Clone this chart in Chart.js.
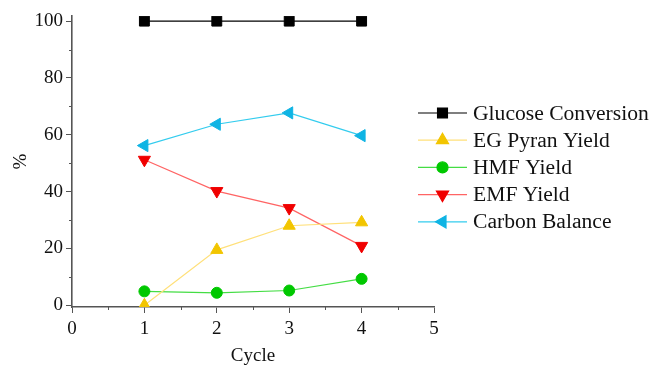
<!DOCTYPE html>
<html>
<head>
<meta charset="utf-8">
<script src="https://cdn.jsdelivr.net/npm/chart.js@4.4.0/dist/chart.umd.min.js"></script>
<style>
  html, body { margin: 0; padding: 0; background: #fff; }
  #wrap { width: 653px; height: 367px; }
</style>
</head>
<body>
<div id="wrap"><canvas id="myChart"></canvas></div>
<script>
const cycles = [1, 2, 3, 4];
const glucoseConversion = [100, 100, 100, 100];
const egPyranYield = [0, 19.5, 28.0, 29.2];
const hmfYield = [4.9, 4.4, 5.2, 9.3];
const emfYield = [51.2, 40.2, 34.2, 20.9];
const carbonBalance = [56.2, 63.7, 67.7, 59.7];
const xTicks = [0, 1, 2, 3, 4, 5];
const yTicks = [0, 20, 40, 60, 80, 100];

const serif = "'Liberation Serif', 'DejaVu Serif', serif";
const axisColor = '#555';

const series = [
    { label: 'Glucose Conversion', values: glucoseConversion, line: '#000000', fill: '#000000', style: 'rect', radius: 7, rotation: 0 },
    { label: 'EG Pyran Yield', values: egPyranYield, line: '#ffe07a', fill: '#f2c500', style: 'triangle', radius: 7, rotation: 0 },
    { label: 'HMF Yield', values: hmfYield, line: '#44dd44', fill: '#00c800', style: 'circle', radius: 5.5, rotation: 0 },
    { label: 'EMF Yield', values: emfYield, line: '#ff6464', fill: '#f00000', style: 'triangle', radius: 7, rotation: 180 },
    { label: 'Carbon Balance', values: carbonBalance, line: '#33ccee', fill: '#0fb4e4', style: 'triangle', radius: 7, rotation: -90 }
];

// minor ticks and the legend are drawn by hand
const extras = {
    id: 'extras',
    afterDraw(chart) {
        const ctx = chart.ctx;
        const xs = chart.scales.x, ys = chart.scales.y;
        const area = chart.chartArea;
        ctx.save();
        ctx.strokeStyle = axisColor;
        ctx.lineWidth = 1;
        ctx.beginPath();
        for (let v = 10; v < 100; v += 20) {
            const py = Math.round(ys.getPixelForValue(v)) + 0.5;
            ctx.moveTo(area.left, py);
            ctx.lineTo(area.left - 3, py);
        }
        for (let v = 0.5; v < 5; v += 1) {
            const px = Math.round(xs.getPixelForValue(v)) + 0.5;
            ctx.moveTo(px, area.bottom);
            ctx.lineTo(px, area.bottom + 3);
        }
        ctx.stroke();

        // legend
        const lx = 418, lw = 49, top = 113, gap = 27.2;
        ctx.font = '21.6px ' + serif;
        ctx.textBaseline = 'middle';
        series.forEach((s, i) => {
            const y = top + i * gap;
            ctx.strokeStyle = s.line;
            ctx.lineWidth = 1.2;
            ctx.beginPath();
            ctx.moveTo(lx, y);
            ctx.lineTo(lx + lw, y);
            ctx.stroke();
            ctx.fillStyle = s.fill;
            ctx.strokeStyle = s.fill;
            Chart.helpers.drawPoint(ctx, { pointStyle: s.style, rotation: s.rotation, radius: s.radius, borderWidth: 1 }, lx + lw / 2, y);
            ctx.fillStyle = '#111';
            ctx.fillText(s.label, lx + lw + 6, y + 1);
        });
        ctx.restore();
    }
};

new Chart(document.getElementById('myChart'), {
    type: 'line',
    data: {
        datasets: series.map(s => ({
            label: s.label,
            data: s.values.map((v, i) => ({ x: cycles[i], y: v })),
            borderColor: s.line,
            borderWidth: 1.2,
            backgroundColor: s.fill,
            pointBackgroundColor: s.fill,
            pointBorderColor: s.fill,
            pointBorderWidth: 1,
            pointStyle: s.style,
            pointRotation: s.rotation,
            pointRadius: s.radius,
            tension: 0,
            fill: false
        }))
    },
    options: {
        responsive: true,
        maintainAspectRatio: false,
        animation: false,
        layout: { padding: { left: 0, right: 219, top: 16, bottom: 0 } },
        plugins: {
            legend: { display: false },
            tooltip: { enabled: false }
        },
        scales: {
            x: {
                type: 'linear',
                min: 0,
                max: 5,
                afterBuildTicks: scale => { scale.ticks = xTicks.map(v => ({ value: v })); },
                afterFit: scale => { scale.height = 60; },
                grid: { display: true, drawOnChartArea: false, drawTicks: true, tickLength: 6, tickColor: axisColor, tickWidth: 1 },
                border: { display: true, color: axisColor, width: 1.6 },
                ticks: { color: '#111', font: { family: serif, size: 19 }, padding: 5, maxRotation: 0 },
                title: { display: true, text: 'Cycle', color: '#111', font: { family: serif, size: 19 }, padding: { top: 9, bottom: 0 } }
            },
            y: {
                type: 'linear',
                min: -0.6,
                max: 101.8,
                afterBuildTicks: scale => { scale.ticks = yTicks.map(v => ({ value: v })); },
                afterFit: scale => { scale.width = 72; },
                grid: { display: true, drawOnChartArea: false, drawTicks: true, tickLength: 6, tickColor: axisColor, tickWidth: 1 },
                border: { display: true, color: axisColor, width: 1.6 },
                ticks: { color: '#111', font: { family: serif, size: 19 }, padding: 3 },
                title: { display: true, text: '%', color: '#111', font: { family: serif, size: 19 }, padding: { top: 10, bottom: 0 } }
            }
        }
    },
    plugins: [extras]
});
</script>
</body>
</html>
